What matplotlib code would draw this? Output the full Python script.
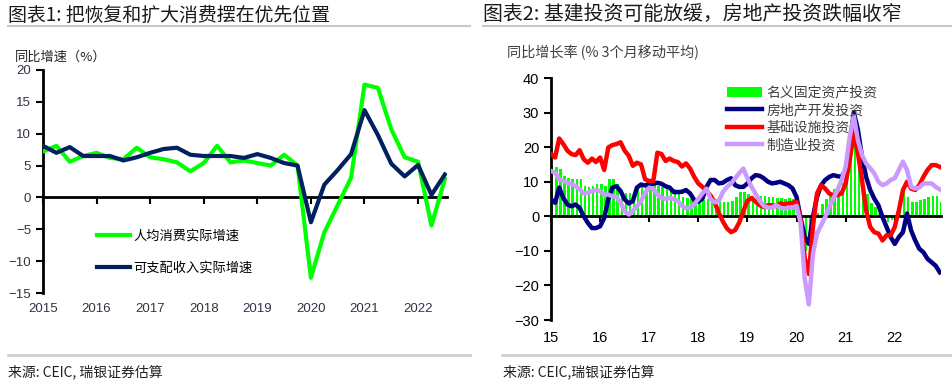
import matplotlib.pyplot as plt
import numpy as np
from matplotlib.lines import Line2D

plt.rcParams['font.family'] = ['Noto Sans CJK SC', 'DejaVu Sans']

# ---- left chart data (quarterly, 2015Q1 - 2022Q3)
quarters = 2015 + np.arange(31) / 4
consumption = [7.2, 8.1, 5.6, 6.5, 7.0, 6.2, 6.0, 7.8, 6.3, 6.0, 5.5, 4.1, 5.4, 8.1, 5.5, 5.8,
               5.4, 5.0, 6.7, 5.0, -12.6, -5.5, -1.2, 3.1, 17.7, 17.2, 10.7, 6.3, 5.6, -4.4, 2.9]
income = [8.1, 7.0, 7.9, 6.5, 6.5, 6.5, 5.8, 6.3, 7.0, 7.6, 7.8, 6.7, 6.5, 6.5, 6.5, 6.2,
          6.8, 6.2, 5.4, 5.0, -3.9, 2.0, 4.3, 6.8, 13.7, 9.8, 5.3, 3.3, 5.1, 0.4, 3.6]
left_years = [2015, 2016, 2017, 2018, 2019, 2020, 2021, 2022]

# ---- right chart data (monthly, 3mma, from Jan 2015)
fai = [14.6, 14.4, 13.6, 11.7, 11.2, 10.7, 10.7, 10.7, 8.7, 8.4, 8.7, 9.2, 9.2, 8.9, 10.7, 10.7,
       9.2, 7.3, 6.6, 6.6, 6.8, 8.2, 8.8, 8.8, 9.0, 9.2, 8.9, 8.6, 8.6, 8.3, 7.8, 7.5,
       5.5, 5.2, 5.0, 5.0, 4.6, 4.6, 5.0, 5.2, 5.0, 4.5, 4.2, 4.2, 4.5, 5.5, 7.0, 7.0,
       6.5, 6.0, 6.0, 5.8, 5.8, 5.5, 5.5, 5.3, 5.2, 5.0, 5.2, 5.0, 4.5, -3.0, -10.0, -7.0,
       -1.6, 1.0, 3.5, 5.0, 6.3, 8.0, 8.5, 9.5, 11.5, 17.0, 20.5, 16.0, 9.5, 6.5, 3.7, 2.7,
       0.8, -0.7, -1.6, -1.2, -0.2, 1.7, 8.0, 5.5, 4.2, 4.2, 4.6, 5.1, 5.6, 5.8, 6.0, 4.2]
property_inv = [4.9, 3.9, 8.3, 5.3, 3.4, 2.9, 3.4, 2.4, 0.0, -1.9, -3.4, -3.4, -2.9, -0.5, 4.9, 8.3,
                8.7, 7.3, 4.9, 3.7, 4.4, 8.3, 9.2, 8.9, 9.4, 9.4, 9.7, 9.4, 8.7, 8.3, 7.0, 7.0,
                7.1, 7.6, 6.6, 4.7, 4.2, 5.1, 8.5, 10.5, 10.5, 9.5, 9.7, 10.5, 11.0, 9.0, 8.5, 8.5,
                9.5, 11.0, 11.9, 11.7, 11.0, 10.0, 9.5, 9.7, 10.0, 9.5, 9.0, 8.1, 5.6, -0.5, -6.0, -8.0,
                -0.2, 5.6, 9.0, 10.5, 11.4, 11.9, 11.6, 11.4, 13.4, 21.0, 30.0, 25.0, 17.2, 11.4, 7.6, 5.1,
                3.2, -0.2, -3.1, -6.0, -8.0, -6.0, -4.6, 0.8, -4.1, -7.0, -9.4, -10.4, -12.3, -13.3, -14.3, -16.2]
infra = [18.0, 17.0, 22.5, 20.9, 19.0, 18.0, 17.7, 19.1, 16.5, 15.5, 16.7, 15.7, 17.0, 13.4, 19.9, 20.6,
         20.9, 21.4, 19.0, 17.5, 14.6, 15.5, 15.0, 10.7, 10.2, 10.2, 18.4, 18.0, 16.0, 16.7, 16.0, 15.7,
         14.4, 15.3, 13.8, 11.4, 9.5, 8.5, 7.3, 6.0, 4.0, 1.0, -1.5, -3.5, -4.6, -4.0, -1.8, 1.5,
         4.5, 5.3, 4.2, 3.2, 2.7, 3.2, 3.2, 2.9, 3.7, 3.5, 3.7, 3.9, 4.2, -1.0, -12.0, -16.7,
         -3.1, 6.6, 9.0, 8.0, 6.6, 6.1, 6.1, 6.6, 9.5, 16.3, 24.0, 18.2, 10.5, 1.7, -3.1, -4.6,
         -5.0, -7.0, -5.5, -5.5, -3.1, 1.7, 7.6, 10.0, 8.0, 7.6, 9.0, 11.4, 13.4, 14.8, 14.8, 14.3]
manufacturing = [13.1, 12.6, 10.7, 10.2, 9.7, 9.4, 8.7, 7.8, 6.6, 6.8, 7.3, 7.6, 7.3, 6.3, 6.3, 5.8,
                 5.6, 3.9, 1.5, 0.5, 1.5, 2.9, 4.4, 6.8, 8.3, 8.0, 6.3, 5.3, 5.0, 5.3, 5.0, 4.4,
                 3.0, 2.3, 2.5, 3.5, 5.0, 6.6, 8.0, 5.0, 4.0, 4.5, 7.0, 8.5, 9.5, 11.0, 12.5, 13.8,
                 11.0, 8.5, 6.5, 4.5, 3.0, 2.5, 2.5, 3.2, 2.5, 2.2, 2.5, 2.5, 3.0, -2.0, -18.0, -25.5,
                 -10.9, -5.0, -2.6, -0.2, 2.7, 5.1, 7.6, 10.5, 14.3, 23.0, 29.0, 22.0, 17.7, 15.3, 13.9, 12.4,
                 10.0, 9.0, 9.5, 10.5, 11.0, 13.4, 15.8, 13.4, 8.5, 8.0, 8.3, 9.5, 9.5, 9.5, 8.5, 7.8]
months = np.arange(len(fai))
right_years = ['15', '16', '17', '18', '19', '20', '21', '22']

num_font = 'Liberation Sans'
W, H = 952, 389
fig = plt.figure(figsize=(W / 100, H / 100), dpi=100)


def fx(px):
    return px / W


def fy(py):
    return 1 - py / H


# ---------------- headers / footers ----------------
fig.text(fx(8), fy(15), '图表1: 把恢复和扩大消费摆在优先位置', fontsize=13.6, va='center', color='#1a1a1a')
fig.text(fx(483), fy(15), '图表2: 基建投资可能放缓，房地产投资跌幅收窄', fontsize=14.3, va='center', color='#1a1a1a')
for x0, x1 in [(8, 470), (483, 952)]:
    fig.add_artist(Line2D([fx(x0), fx(x1)], [fy(26), fy(26)], color='#c8c8c8', lw=1.5))
for x0, x1 in [(8, 470), (502, 952)]:
    fig.add_artist(Line2D([fx(x0), fx(x1)], [fy(355), fy(355)], color='#d0d0d0', lw=2))
fig.text(fx(8), fy(372), '来源: CEIC, 瑞银证券估算', fontsize=10, va='center', color='#222222')
fig.text(fx(503), fy(372), '来源: CEIC,瑞银证券估算', fontsize=10, va='center', color='#222222')

# ---------------- left chart ----------------
axL = fig.add_axes([fx(43), fy(293), fx(447) - fx(43), fy(70) - fy(293)])
axL.plot(quarters, consumption, color='#00ff00', lw=3, label='人均消费实际增速', zorder=3)
axL.plot(quarters, income, color='#002060', lw=3, label='可支配收入实际增速', zorder=4)
axL.set_xlim(2015, 2022.54)
axL.set_ylim(-15, 20)
axL.set_yticks(range(-15, 21, 5))
axL.set_xticks(left_years)
axL.tick_params(axis='x', direction='out', length=5, width=1.5, labelbottom=False)
axL.tick_params(axis='y', direction='out', length=5, width=1.5, labelsize=9.5, labelcolor='#333344')
for lab in axL.get_yticklabels():
    lab.set_fontfamily(num_font)
for s in ['top', 'right']:
    axL.spines[s].set_visible(False)
axL.spines['bottom'].set_position(('data', 0))
axL.spines['bottom'].set_linewidth(2)
axL.spines['left'].set_linewidth(2)
ylabL = (fy(309) - fy(293)) / (fy(70) - fy(293))
for yr in left_years:
    axL.text(yr, ylabL, str(yr), transform=axL.get_xaxis_transform(),
             ha='center', va='center', fontsize=9.5, family=num_font, color='#333344')
fig.text(fx(15), fy(57), '同比增速（%）', fontsize=9.5, va='center', color='#222222')
axL.legend(loc='center left', bbox_to_anchor=(fx(97), fy(252)), bbox_transform=fig.transFigure,
           frameon=False, fontsize=9.5, handlelength=2.5, handletextpad=0.25, labelspacing=1.4,
           borderpad=0, borderaxespad=0)

# ---------------- right chart ----------------
axR = fig.add_axes([fx(551), fy(320), fx(941) - fx(551), fy(78) - fy(320)])
bars = axR.bar(months, fai, width=0.6, align='edge', color='#00ff00', label='名义固定资产投资', zorder=2)
l1, = axR.plot(months, property_inv, color='#000080', lw=3.2, label='房地产开发投资', zorder=3)
l2, = axR.plot(months, infra, color='#ff0000', lw=3.2, label='基础设施投资', zorder=4)
l3, = axR.plot(months, manufacturing, color='#cc99ff', lw=3.2, label='制造业投资', zorder=5)
axR.set_xlim(0, 95.3)
axR.set_ylim(-30, 40)
axR.set_yticks(range(-30, 41, 10))
axR.set_xticks(np.arange(0, 96, 12))
axR.tick_params(axis='x', direction='out', length=4, width=1.5, labelbottom=False)
axR.tick_params(axis='y', direction='out', length=5, width=1.5, labelsize=10.5, labelcolor='black')
for lab in axR.get_yticklabels():
    lab.set_fontfamily(num_font)
for s in ['top', 'right']:
    axR.spines[s].set_visible(False)
axR.spines['bottom'].set_position(('data', 0))
axR.spines['bottom'].set_linewidth(2)
axR.spines['left'].set_linewidth(2)
ylabR = (fy(338) - fy(320)) / (fy(78) - fy(320))
for i, yl in enumerate(right_years):
    axR.text(i * 12, ylabR, yl, transform=axR.get_xaxis_transform(),
             ha='center', va='center', fontsize=10.5, family=num_font, color='black')
fig.text(fx(507), fy(53), '同比增长率 (% 3个月移动平均)', fontsize=10.2, va='center', color='#404040')
axR.legend([bars, l1, l2, l3], ['名义固定资产投资', '房地产开发投资', '基础设施投资', '制造业投资'],
           loc='center left', bbox_to_anchor=(fx(727), fy(119)), bbox_transform=fig.transFigure,
           frameon=False, fontsize=10, handlelength=2.5, handletextpad=0.35, labelspacing=0.25,
           borderpad=0, borderaxespad=0, labelcolor='#404040')

fig.savefig('out.png', dpi=100)
